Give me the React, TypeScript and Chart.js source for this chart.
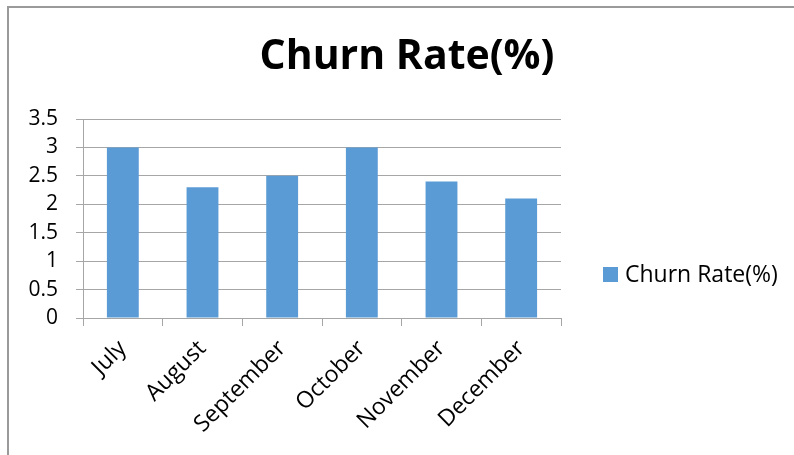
import React, { useEffect, useRef } from "react";
import { Chart, registerables } from "chart.js";

Chart.register(...registerables);

const titleText = "Churn Rate(%)";
const seriesName = "Churn Rate(%)";
const months = ["July", "August", "September", "October", "November", "December"];
const churnValues = [3, 2.3, 2.5, 3, 2.4, 2.1];
const yMin = 0;
const yMax = 3.5;
const yStep = 0.5;

const BAR_COLOR = "#5B9BD5";
const GRID_COLOR = "#a6a6a6";
const FONT = "'Open Sans', 'Noto Sans', sans-serif";

const overlayPlugin = {
  id: "excelOverlay",
  afterDraw(chart: any) {
    const ctx = chart.ctx;
    ctx.save();
    // title
    ctx.fillStyle = "#000";
    ctx.font = `bold 41px ${FONT}`;
    ctx.textAlign = "center";
    ctx.textBaseline = "middle";
    ctx.fillText(titleText, 407, 57);
    // legend
    const ds = chart.data.datasets[0];
    ctx.fillStyle = ds.backgroundColor;
    ctx.fillRect(603, 267, 15, 15);
    ctx.fillStyle = "#000";
    ctx.font = `23px ${FONT}`;
    ctx.textAlign = "left";
    ctx.textBaseline = "middle";
    ctx.fillText(ds.label, 625, 275);
    ctx.restore();
  },
};

export default function App() {
  const canvasRef = useRef<HTMLCanvasElement | null>(null);

  useEffect(() => {
    if (!canvasRef.current) return;
    const chart = new Chart(canvasRef.current, {
      type: "bar",
      data: {
        labels: months,
        datasets: [
          {
            label: seriesName,
            data: churnValues,
            backgroundColor: BAR_COLOR,
            borderWidth: 0,
            barPercentage: 0.4,
            categoryPercentage: 1,
          },
        ],
      },
      options: {
        responsive: false,
        animation: false,
        devicePixelRatio: 1,
        layout: { padding: { left: 0, right: 233, top: 119, bottom: 0 } },
        plugins: {
          legend: { display: false },
          title: { display: false },
          tooltip: { enabled: false },
        },
        scales: {
          x: {
            grid: {
              display: true,
              drawOnChartArea: false,
              drawTicks: true,
              tickLength: 8,
              color: GRID_COLOR,
              offset: true,
            },
            border: { display: true, color: GRID_COLOR, width: 1 },
            ticks: {
              color: "#000",
              font: { family: FONT, size: 23 },
              minRotation: 45,
              maxRotation: 45,
              padding: 9,
            },
            afterFit: (scale: any) => {
              scale.height = 455 - 318;
            },
          },
          y: {
            min: yMin,
            max: yMax,
            grid: {
              color: GRID_COLOR,
              lineWidth: 1,
              drawTicks: true,
              tickLength: 7,
            },
            border: { display: true, color: GRID_COLOR, width: 1 },
            ticks: {
              stepSize: yStep,
              color: "#000",
              font: { family: FONT, size: 21 },
              padding: 18,
              callback: (v: any) => String(Number(Number(v).toFixed(1))),
            },
            afterFit: (scale: any) => {
              scale.width = 83;
            },
          },
        },
      },
      plugins: [overlayPlugin],
    });
    return () => chart.destroy();
  }, []);

  return (
    <div style={{ position: "absolute", left: 0, top: 0, width: 794, height: 455, overflow: "hidden", background: "#fff" }}>
      <div
        style={{
          position: "absolute",
          left: 7,
          top: 6,
          width: 900,
          height: 600,
          borderTop: "2px solid #9a9a9a",
          borderLeft: "2px solid #9a9a9a",
          boxSizing: "border-box",
        }}
      />
      <canvas ref={canvasRef} width={794} height={455} style={{ position: "absolute", left: 0, top: 0 }} />
    </div>
  );
}
